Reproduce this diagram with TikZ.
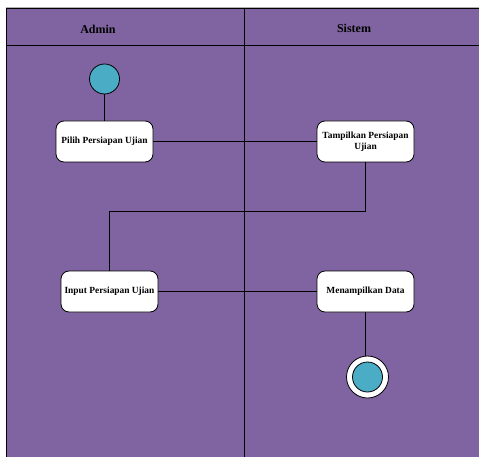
\documentclass[tikz,border=0pt]{standalone}
\usepackage{fontspec}
\setmainfont{Liberation Serif}
\begin{document}
\begin{tikzpicture}[x=1bp,y=-1bp,
  act/.style={draw=black,fill=white,rounded corners=8bp,minimum width=97bp,minimum height=41bp,
    align=center,font=\fontsize{9.4bp}{11bp}\selectfont\bfseries,line width=0.8bp,inner sep=1bp},
  lanehead/.style={font=\fontsize{12bp}{14bp}\selectfont\bfseries},
  flow/.style={draw=black,line width=0.8bp}]
\useasboundingbox (0,0) rectangle (479,457);
\definecolor{pool}{HTML}{8064A2}
\definecolor{teal}{HTML}{4BACC6}
\begin{scope}
\clip (0,0) rectangle (479,457);
\draw[gray!60,line width=1bp] (6,8) -- (480,8);
\draw[fill=pool,draw=black,line width=1bp] (6,9) rectangle (482,460);
\draw[black,line width=1bp] (6,46) -- (482,46);
\draw[black,line width=0.8bp] (244,9) -- (244,460);
\end{scope}
\node[lanehead] (hA) at (98,29) {Admin};
\node[lanehead] (hS) at (354,28) {Sistem};
\node[circle,draw=black,fill=teal,minimum size=30bp,inner sep=0pt,line width=0.8bp] (start) at (104.5,79) {};
\node[act] (pilih) at (104.5,141.5) {Pilih Persiapan Ujian};
\node[act] (tampil) at (365.5,141.5) {Tampilkan Persiapan\\Ujian};
\node[act] (input) at (109.5,291.5) {Input Persiapan Ujian};
\node[act] (menam) at (365.5,291.5) {Menampilkan Data};
\node[circle,draw=black,fill=white,minimum size=42bp,inner sep=0pt,line width=0.8bp] (end) at (367.5,377) {};
\node[circle,draw=black,fill=teal,minimum size=30bp,inner sep=0pt,line width=0.8bp] (endin) at (367.5,377) {};
\draw[flow] (start) -- (pilih);
\draw[flow] (pilih) -- (tampil);
\draw[flow] (tampil.south) -- ++(0,49.5) -| (input.north);
\draw[flow] (input) -- (menam);
\draw[flow] (menam.south) -- (menam.south |- end.north);
\end{tikzpicture}
\end{document}
